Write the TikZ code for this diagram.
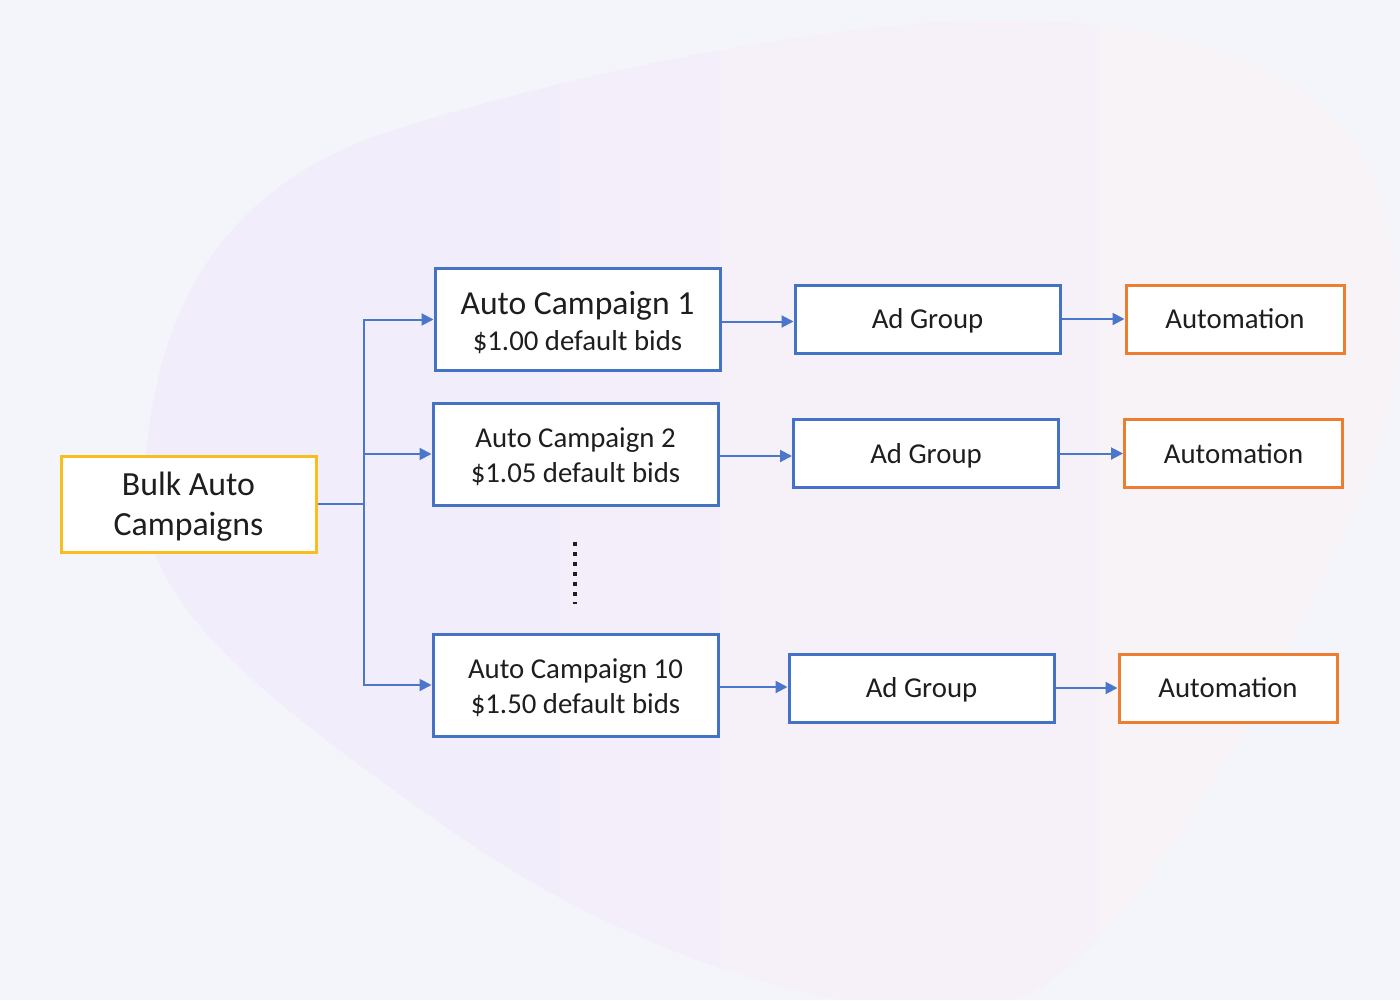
\documentclass[tikz,border=0pt]{standalone}
\usepackage{fontspec}
\setmainfont{Carlito}
\usetikzlibrary{arrows.meta}
\definecolor{bgc}{HTML}{F4F5FA}
\definecolor{blobL}{HTML}{F2EDFA}
\definecolor{blobM}{HTML}{F3EEF9}
\definecolor{blobR}{HTML}{F6F1F8}
\definecolor{blobRR}{HTML}{F8F3F6}
\definecolor{boxblue}{HTML}{4472C4}
\definecolor{lineblue}{HTML}{4A76CC}
\definecolor{boxyellow}{HTML}{F8BE1E}
\definecolor{boxorange}{HTML}{ED7D31}
\definecolor{txt}{HTML}{1E1E1E}
\tikzset{
  box/.style={draw=boxblue, line width=1.5pt, fill=white, inner sep=0pt, align=center,
    text=txt, font=\fontsize{14.4}{17.5}\selectfont},
  camp/.style={box, minimum width=142.5pt, minimum height=51pt},
  adg/.style={box, minimum width=132.5pt, minimum height=34pt, text height=11pt, text depth=1.5pt},
  auto/.style={adg, draw=boxorange, minimum width=109pt},
  conn/.style={draw=lineblue, line width=1pt},
  arr/.style={conn, -{Triangle[length=6pt,width=6pt]}}
}
\begin{document}
\begin{tikzpicture}[x=0.5pt,y=-0.5pt]
\fill[bgc] (0,0) rectangle (1400,1000);
\useasboundingbox (0,0) rectangle (1400,1000);
\begin{scope}
\clip (0,0) rectangle (1400,1000);
\clip (144,490) .. controls (150,300) and (230,180) .. (400,128)
  .. controls (600,65) and (850,20) .. (1000,20)
  .. controls (1200,20) and (1330,80) .. (1370,170)
  .. controls (1420,300) and (1400,420) .. (1350,520)
  .. controls (1280,680) and (1120,980) .. (1000,1005)
  .. controls (880,1030) and (650,970) .. (450,830)
  .. controls (250,690) and (140,600) .. (144,490) -- cycle;
\fill[blobL] (0,0) rectangle (560,1000);
\fill[blobM] (560,0) rectangle (720,1000);
\fill[blobR] (720,0) rectangle (1100,1000);
\fill[blobRR] (1100,0) rectangle (1400,1000);
\end{scope}

\node[box, draw=boxyellow, minimum width=127.5pt, minimum height=48pt,
  font=\fontsize{16.9}{20}\selectfont] (bulk) at (188.5,504)
  {\rule{0pt}{14.8pt}Bulk Auto\\Campaigns};

\node[camp] (ac1) at (577.5,319.5)
  {{\fontsize{16.8}{18.5}\selectfont\rule{0pt}{14.5pt}Auto Campaign 1}\\[0.5pt]\$1.00 default bids};
\node[camp] (ac2) at (575.5,454) {\rule{0pt}{12.8pt}Auto Campaign 2\\\$1.05 default bids};
\node[camp] (ac10) at (575.5,685) {\rule{0pt}{12.8pt}Auto Campaign 10\\\$1.50 default bids};

\node[adg] (ag1) at (927.5,319) {Ad Group};
\node[adg] (ag2) at (926,453.5) {Ad Group};
\node[adg] (ag3) at (921.5,688) {Ad Group};

\node[auto] (au1) at (1235,319) {Automation};
\node[auto] (au2) at (1233.5,453.5) {Automation};
\node[auto] (au3) at (1228,688) {Automation};

\coordinate (j) at (364,504);
\coordinate (dtop) at (575,542);
\coordinate (dbot) at (575,604);

\draw[conn] (bulk.east) -- (j);
\draw[arr] (j) |- (ac1.west);
\draw[arr] (j) |- (ac2.west);
\draw[arr] (j) |- (ac10.west);

\draw[arr] ([yshift=-1pt]ac1.east) -- ([yshift=-1pt]ag1.west |- ac1.east);
\draw[arr] ([yshift=-1pt]ac2.east) -- ([yshift=-1pt]ag2.west |- ac2.east);
\draw[arr] ([yshift=-1pt]ac10.east) -- ([yshift=-1pt]ag3.west |- ac10.east);
\draw[arr] (ag1.east) -- (au1.west);
\draw[arr] (ag2.east) -- (au2.west);
\draw[arr] (ag3.east) -- (au3.west);

\draw[txt, line width=2pt, dash pattern=on 2pt off 3pt] (dtop) -- (dbot);
\end{tikzpicture}
\end{document}
